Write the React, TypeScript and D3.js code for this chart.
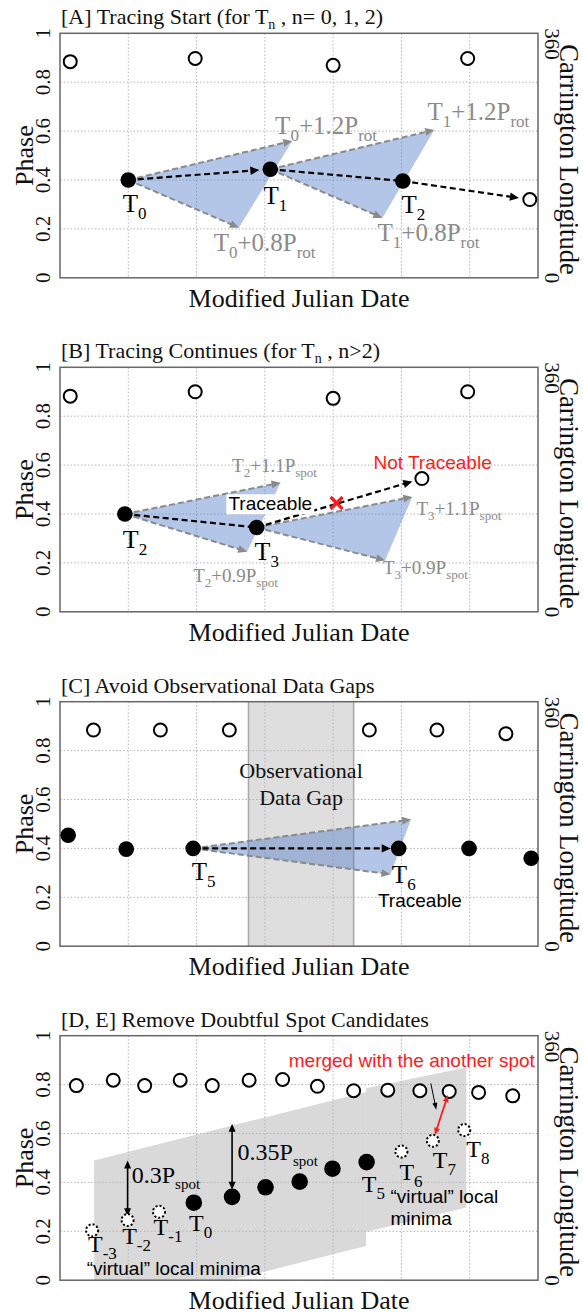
import React from 'react';
import * as d3 from 'd3';

// ---------- layout constants ----------
const W = 583;
const H = 1316;
const LEFT = 60;
const RIGHT = 538;
const PH = 244.5;
const PANEL_TOPS = [33.3, 367.3, 701.7, 1035.7];
const SERIF = "'Liberation Serif', 'Times New Roman', serif";
const SANS = "'Liberation Sans', Arial, sans-serif";

// ---------- axes ----------
const X_DOMAIN = [0, 7];
const X_GRID = [1, 2, 3, 4, 5, 6];
const Y_TICKS = [0, 0.2, 0.4, 0.6, 0.8, 1];
const Y_TICK_LABELS = ['0', '0.2', '0.4', '0.6', '0.8', '1'];
const Y_GRID = [0.2, 0.4, 0.6, 0.8];
const RIGHT_TICKS = [0, 1];
const RIGHT_TICK_LABELS = ['0', '360'];
const X_LABEL = 'Modified Julian Date';
const Y_LABEL = 'Phase';
const Y2_LABEL = 'Carrington Longitude';

type Seg = { t: string; sub?: boolean };
const TITLES: Seg[][] = [
  [{ t: '[A] Tracing Start (for T' }, { t: 'n', sub: true }, { t: ' , n= 0, 1, 2)' }],
  [{ t: '[B] Tracing Continues (for T' }, { t: 'n', sub: true }, { t: ' , n>2)' }],
  [{ t: '[C] Avoid Observational Data Gaps' }],
  [{ t: '[D, E] Remove Doubtful Spot Candidates' }],
];

// ---------- Panel A ----------
const openA = [[0.15, 0.884], [1.98, 0.897], [4.0, 0.869], [5.97, 0.897], [6.88, 0.32]];
const filledA = [[1.0, 0.4], [3.08, 0.444], [5.02, 0.396]];
const filledLabelsA = [
  { x: 0.92, y: 0.27, n: '0' },
  { x: 2.98, y: 0.3, n: '1' },
  { x: 5.0, y: 0.265, n: '2' },
];
const conesA = [
  { from: [1.0, 0.4], up: [3.4, 0.56], low: [2.62, 0.205] },
  { from: [3.08, 0.444], up: [5.48, 0.605], low: [4.72, 0.245] },
];
const tracesA = [
  { from: [1.0, 0.4], to: [3.08, 0.444], head: true },
  { from: [3.08, 0.444], to: [5.02, 0.396], head: false },
  { from: [5.02, 0.396], to: [6.88, 0.32], head: true },
];
const grayLabelsA = [
  { x: 3.15, y: 0.59, segs: [{ t: 'T' }, { t: '0', sub: true }, { t: '+1.2P' }, { t: 'rot', sub: true }] },
  { x: 5.38, y: 0.645, segs: [{ t: 'T' }, { t: '1', sub: true }, { t: '+1.2P' }, { t: 'rot', sub: true }] },
  { x: 2.25, y: 0.11, segs: [{ t: 'T' }, { t: '0', sub: true }, { t: '+0.8P' }, { t: 'rot', sub: true }] },
  { x: 4.65, y: 0.15, segs: [{ t: 'T' }, { t: '1', sub: true }, { t: '+0.8P' }, { t: 'rot', sub: true }] },
];

// ---------- Panel B ----------
const openB = [[0.15, 0.882], [1.98, 0.9], [4.0, 0.873], [5.97, 0.9], [5.3, 0.545]];
const filledB = [[0.95, 0.4], [2.88, 0.345]];
const filledLabelsB = [
  { x: 0.92, y: 0.26, n: '2' },
  { x: 2.85, y: 0.21, n: '3' },
];
const conesB = [
  { from: [0.95, 0.4], up: [3.23, 0.528], low: [2.74, 0.246] },
  { from: [2.88, 0.345], up: [5.16, 0.47], low: [4.76, 0.21] },
];
const tracesB = [
  { from: [0.95, 0.4], to: [2.88, 0.345], head: false },
  { from: [2.88, 0.345], to: [5.3, 0.545], head: true },
];
const grayLabelsB = [
  { x: 2.52, y: 0.57, segs: [{ t: 'T' }, { t: '2', sub: true }, { t: '+1.1P' }, { t: 'spot', sub: true }] },
  { x: 5.22, y: 0.395, segs: [{ t: 'T' }, { t: '3', sub: true }, { t: '+1.1P' }, { t: 'spot', sub: true }] },
  { x: 1.95, y: 0.12, segs: [{ t: 'T' }, { t: '2', sub: true }, { t: '+0.9P' }, { t: 'spot', sub: true }] },
  { x: 4.73, y: 0.153, segs: [{ t: 'T' }, { t: '3', sub: true }, { t: '+0.9P' }, { t: 'spot', sub: true }] },
];
const crossB = [4.05, 0.445];
const traceableB = { x: 3.08, y: 0.415, text: 'Traceable' };
const notTraceableB = { x: 4.59, y: 0.585, text: 'Not Traceable' };

// ---------- Panel C ----------
const gapC = [2.76, 4.3];
const openC = [[0.49, 0.884], [1.47, 0.884], [2.48, 0.884], [4.53, 0.884], [5.52, 0.884], [6.53, 0.869]];
const filledC = [[0.12, 0.454], [0.97, 0.397], [1.95, 0.4], [4.96, 0.4], [5.99, 0.4], [6.9, 0.36]];
const filledLabelsC = [
  { x: 1.93, y: 0.27, n: '5' },
  { x: 4.86, y: 0.257, n: '6' },
];
const conesC = [{ from: [1.95, 0.4], up: [5.14, 0.518], low: [4.84, 0.294] }];
const tracesC = [{ from: [1.95, 0.4], to: [4.96, 0.4], head: true }];
const gapTextC = [
  { x: 3.53, y: 0.687, text: 'Observational' },
  { x: 3.53, y: 0.577, text: 'Data Gap' },
];
const traceableC = { x: 5.27, y: 0.162, text: 'Traceable' };

// ---------- Panel D ----------
const grayLeftD = [[0.5, 0], [0.5, 0.49], [4.48, 0.77], [4.48, 0.14], [2.5, 0]];
const grayRightD = [[4.48, 0.785], [5.95, 0.87], [5.95, 0.297], [4.48, 0.197]];
const openD = [
  [0.24, 0.796], [0.78, 0.818], [1.24, 0.796], [1.76, 0.818], [2.23, 0.796], [2.77, 0.818],
  [3.26, 0.821], [3.77, 0.793], [4.3, 0.775], [4.8, 0.777], [5.27, 0.775], [5.7, 0.772],
  [6.13, 0.768], [6.63, 0.754],
];
const filledD = [[1.96, 0.317], [2.52, 0.341], [3.01, 0.38], [3.51, 0.403], [3.99, 0.456], [4.49, 0.483]];
const dottedD = [[0.47, 0.204], [0.99, 0.246], [1.45, 0.28], [5.0, 0.526], [5.46, 0.57], [5.92, 0.614]];
const labelsD = [
  { x: 0.41, y: 0.115, n: '-3' },
  { x: 0.91, y: 0.15, n: '-2' },
  { x: 1.37, y: 0.184, n: '-1' },
  { x: 1.89, y: 0.2, n: '0' },
  { x: 4.42, y: 0.36, n: '5' },
  { x: 4.97, y: 0.41, n: '6' },
  { x: 5.46, y: 0.457, n: '7' },
  { x: 5.95, y: 0.505, n: '8' },
];
const spansD = [
  { x: 0.99, y1: 0.262, y2: 0.49, lx: 1.05, ly: 0.396, label: '0.3P' },
  { x: 2.52, y1: 0.37, y2: 0.64, lx: 2.6, ly: 0.49, label: '0.35P' },
];
const virtualD = [
  { x: 0.39, y: 0.023, text: '\u201cvirtual\u201d local minima' },
  { x: 4.84, y: 0.314, text: '\u201cvirtual\u201d local' },
  { x: 4.84, y: 0.225, text: 'minima' },
];
const mergedD = { x: 3.35, y: 0.873, text: 'merged with the another spot' };
const pointerD = { from: [5.43, 0.805], to: [5.51, 0.697] };
const redArrowD = { from: [5.49, 0.595], to: [5.68, 0.757] };

// ---------- helpers ----------
function RichText(props: {
  x: number; y: number; segs: Seg[]; size: number; subSize: number; fill: string;
  family?: string; anchor?: string; shift?: number;
}) {
  const { x, y, segs, size, subSize, fill, family = SERIF, anchor = 'start' } = props;
  const shift = props.shift ?? size * 0.28;
  let down = false;
  const kids = segs.map((s, i) => {
    if (s.sub) {
      const dy = down ? 0 : shift;
      down = true;
      return <tspan key={i} fontSize={subSize} dy={dy}>{s.t}</tspan>;
    }
    const dy = down ? -shift : 0;
    down = false;
    return <tspan key={i} fontSize={size} dy={dy}>{s.t}</tspan>;
  });
  return (
    <text x={x} y={y} fill={fill} fontFamily={family} fontSize={size} textAnchor={anchor as any}>
      {kids}
    </text>
  );
}

function Arrow(props: {
  x1: number; y1: number; x2: number; y2: number; color: string; width: number;
  dash?: string; head?: boolean; head2?: boolean; hl?: number; hw?: number; shorten?: number; shortenStart?: number;
}) {
  const { color, width, dash, head = true, head2 = false, hl = 10, hw = 4.5, shorten = 0, shortenStart = 0 } = props;
  const dx = props.x2 - props.x1;
  const dy = props.y2 - props.y1;
  const L = Math.hypot(dx, dy);
  const ux = dx / L, uy = dy / L;
  const nx = -uy, ny = ux;
  const sx = props.x1 + ux * shortenStart, sy = props.y1 + uy * shortenStart;
  const ex = props.x2 - ux * shorten, ey = props.y2 - uy * shorten;
  const lx2 = head ? ex - ux * hl * 0.7 : ex;
  const ly2 = head ? ey - uy * hl * 0.7 : ey;
  const lx1 = head2 ? sx + ux * hl * 0.7 : sx;
  const ly1 = head2 ? sy + uy * hl * 0.7 : sy;
  const headPts = (tx: number, ty: number, dxu: number, dyu: number) => {
    const bx = tx - dxu * hl, by = ty - dyu * hl;
    return `${tx},${ty} ${bx + nx * hw},${by + ny * hw} ${bx - nx * hw},${by - ny * hw}`;
  };
  return (
    <g>
      <line x1={lx1} y1={ly1} x2={lx2} y2={ly2} stroke={color} strokeWidth={width} strokeDasharray={dash} />
      {head && <polygon points={headPts(ex, ey, ux, uy)} fill={color} />}
      {head2 && <polygon points={headPts(sx, sy, -ux, -uy)} fill={color} />}
    </g>
  );
}

const xScale = d3.scaleLinear().domain(X_DOMAIN).range([LEFT, RIGHT]);

function Frame({ idx, children, under }: { idx: number; children?: React.ReactNode; under?: React.ReactNode }) {
  const top = PANEL_TOPS[idx];
  const bottom = top + PH;
  const y = d3.scaleLinear().domain([0, 1]).range([bottom, top]);
  const midY = (top + bottom) / 2;
  return (
    <g>
      <RichText x={LEFT + 1} y={top - 9} segs={TITLES[idx]} size={22} subSize={14} fill="#111" shift={5} />
      {under}
      {X_GRID.map((g) => (
        <line key={'vx' + g} x1={xScale(g)} x2={xScale(g)} y1={top} y2={bottom} stroke="#b5b5b5" strokeWidth={1} strokeDasharray="1.5,2" />
      ))}
      {Y_GRID.map((g) => (
        <line key={'hy' + g} x1={LEFT} x2={RIGHT} y1={y(g)} y2={y(g)} stroke="#b5b5b5" strokeWidth={1} strokeDasharray="1.5,2" />
      ))}
      <rect x={LEFT} y={top} width={RIGHT - LEFT} height={PH} fill="none" stroke="#666" strokeWidth={1.5} />
      {Y_TICKS.map((t, i) => (
        <text key={'yt' + t} transform={`translate(50,${y(t)}) rotate(-90)`} textAnchor="middle" fontFamily={SERIF} fontSize={21} fill="#111">
          {Y_TICK_LABELS[i]}
        </text>
      ))}
      {RIGHT_TICKS.map((t, i) => (
        <text key={'rt' + t} transform={`translate(545,${y(t) - 5}) rotate(90)`} textAnchor="start" fontFamily={SERIF} fontSize={21} fill="#111">
          {RIGHT_TICK_LABELS[i]}
        </text>
      ))}
      <text transform={`translate(33,${midY}) rotate(-90)`} textAnchor="middle" fontFamily={SERIF} fontSize={26} fill="#111">{Y_LABEL}</text>
      <text transform={`translate(560,${midY + 4}) rotate(90)`} textAnchor="middle" fontFamily={SERIF} fontSize={26.5} fill="#111">{Y2_LABEL}</text>
      <text x={(LEFT + RIGHT) / 2} y={bottom + 29} textAnchor="middle" fontFamily={SERIF} fontSize={26} fill="#111">{X_LABEL}</text>
      {children}
    </g>
  );
}

function yS(idx: number) {
  const top = PANEL_TOPS[idx];
  return d3.scaleLinear().domain([0, 1]).range([top + PH, top]);
}

const CONE_FILL = 'rgb(80,122,201)';
const CONE_OPACITY = 0.43;
const GRAY_ARROW = '#8a8a8a';

function Cones({ cones, y }: { cones: { from: number[]; up: number[]; low: number[] }[]; y: d3.ScaleLinear<number, number> }) {
  return (
    <g>
      {cones.map((c, i) => (
        <polygon key={'cf' + i}
          points={[c.from, c.up, c.low].map((p) => `${xScale(p[0])},${y(p[1])}`).join(' ')}
          fill={CONE_FILL} fillOpacity={CONE_OPACITY} />
      ))}
      {cones.map((c, i) => (
        <g key={'ca' + i}>
          <Arrow x1={xScale(c.from[0])} y1={y(c.from[1])} x2={xScale(c.up[0])} y2={y(c.up[1])} color={GRAY_ARROW} width={2} dash="6,3" hl={9} hw={4} />
          <Arrow x1={xScale(c.from[0])} y1={y(c.from[1])} x2={xScale(c.low[0])} y2={y(c.low[1])} color={GRAY_ARROW} width={2} dash="6,3" hl={9} hw={4} />
        </g>
      ))}
    </g>
  );
}

function Traces({ traces, y, shorten }: { traces: { from: number[]; to: number[]; head: boolean }[]; y: d3.ScaleLinear<number, number>; shorten: number }) {
  return (
    <g>
      {traces.map((t, i) => (
        <Arrow key={'tr' + i} x1={xScale(t.from[0])} y1={y(t.from[1])} x2={xScale(t.to[0])} y2={y(t.to[1])}
          color="#000" width={2.2} dash="6,3.5" head={t.head} hl={9} hw={4.2} shorten={t.head ? shorten : 0} />
      ))}
    </g>
  );
}

function OpenDots({ pts, y, r = 6.5 }: { pts: number[][]; y: d3.ScaleLinear<number, number>; r?: number }) {
  return (
    <g>
      {pts.map((p, i) => (
        <circle key={'o' + i} cx={xScale(p[0])} cy={y(p[1])} r={r} fill="#fff" stroke="#000" strokeWidth={2} />
      ))}
    </g>
  );
}
function FilledDots({ pts, y, r = 7.8 }: { pts: number[][]; y: d3.ScaleLinear<number, number>; r?: number }) {
  return (
    <g>
      {pts.map((p, i) => (
        <circle key={'f' + i} cx={xScale(p[0])} cy={y(p[1])} r={r} fill="#000" />
      ))}
    </g>
  );
}
function TLabels({ labels, y, size = 25 }: { labels: { x: number; y: number; n: string }[]; y: d3.ScaleLinear<number, number>; size?: number }) {
  return (
    <g>
      {labels.map((l, i) => (
        <RichText key={'tl' + i} x={xScale(l.x)} y={y(l.y)} segs={[{ t: 'T' }, { t: l.n, sub: true }]} size={size} subSize={17} fill="#000" shift={7} />
      ))}
    </g>
  );
}

function PanelA() {
  const y = yS(0);
  return (
    <Frame idx={0}>
      <Cones cones={conesA} y={y} />
      <Traces traces={tracesA} y={y} shorten={11} />
      <OpenDots pts={openA} y={y} />
      <FilledDots pts={filledA} y={y} />
      <TLabels labels={filledLabelsA} y={y} />
      {grayLabelsA.map((l, i) => (
        <RichText key={'gA' + i} x={xScale(l.x)} y={y(l.y)} segs={l.segs} size={25} subSize={17} fill="#8a8a8a" shift={7} />
      ))}
    </Frame>
  );
}

function PanelB() {
  const y = yS(1);
  const cx = xScale(crossB[0]);
  const cy = y(crossB[1]);
  const tx = xScale(traceableB.x);
  const ty = y(traceableB.y);
  return (
    <Frame idx={1}>
      <Cones cones={conesB} y={y} />
      <Traces traces={tracesB} y={y} shorten={10} />
      <rect x={tx - 44} y={ty - 16} width={88} height={20} fill="#fff" />
      <text x={tx} y={ty} textAnchor="middle" fontFamily={SANS} fontSize={19} fill="#000">{traceableB.text}</text>
      <g stroke="#ff1a1a" strokeWidth={3.2}>
        <line x1={cx - 6} y1={cy - 6} x2={cx + 6} y2={cy + 6} />
        <line x1={cx - 6} y1={cy + 6} x2={cx + 6} y2={cy - 6} />
      </g>
      <OpenDots pts={openB} y={y} />
      <FilledDots pts={filledB} y={y} />
      <TLabels labels={filledLabelsB} y={y} size={26} />
      {grayLabelsB.map((l, i) => (
        <RichText key={'gB' + i} x={xScale(l.x)} y={y(l.y)} segs={l.segs} size={19} subSize={13} fill="#8a8a8a" shift={5} />
      ))}
      <text x={xScale(notTraceableB.x)} y={y(notTraceableB.y)} fontFamily={SANS} fontSize={19} fill="#ff1a1a">{notTraceableB.text}</text>
    </Frame>
  );
}

function PanelC() {
  const y = yS(2);
  const top = PANEL_TOPS[2];
  const under = (
    <g>
      <rect x={xScale(gapC[0])} y={top} width={xScale(gapC[1]) - xScale(gapC[0])} height={PH} fill="#dedede" />
      <line x1={xScale(gapC[0])} x2={xScale(gapC[0])} y1={top} y2={top + PH} stroke="#a8a8a8" strokeWidth={1.5} />
      <line x1={xScale(gapC[1])} x2={xScale(gapC[1])} y1={top} y2={top + PH} stroke="#a8a8a8" strokeWidth={1.5} />
    </g>
  );
  return (
    <Frame idx={2} under={under}>
      {gapTextC.map((g, i) => (
        <text key={'gt' + i} x={xScale(g.x)} y={y(g.y)} textAnchor="middle" fontFamily={SERIF} fontSize={22} fill="#111">{g.text}</text>
      ))}
      <Cones cones={conesC} y={y} />
      <Traces traces={tracesC} y={y} shorten={8} />
      <OpenDots pts={openC} y={y} />
      <FilledDots pts={filledC} y={y} />
      <TLabels labels={filledLabelsC} y={y} />
      <text x={xScale(traceableC.x)} y={y(traceableC.y)} textAnchor="middle" fontFamily={SANS} fontSize={19} fill="#000">{traceableC.text}</text>
    </Frame>
  );
}

function PanelD() {
  const y = yS(3);
  const under = (
    <g>
      {[grayLeftD, grayRightD].map((poly, i) => (
        <polygon key={'gp' + i} points={poly.map((p) => `${xScale(p[0])},${y(p[1])}`).join(' ')} fill="#d9d9d9" />
      ))}
    </g>
  );
  return (
    <Frame idx={3} under={under}>
      {spansD.map((s, i) => (
        <g key={'sp' + i}>
          <Arrow x1={xScale(s.x)} y1={y(s.y1)} x2={xScale(s.x)} y2={y(s.y2)} color="#000" width={1.6} head head2 hl={8} hw={3.5} />
          <RichText x={xScale(s.lx)} y={y(s.ly)} segs={[{ t: s.label }, { t: 'spot', sub: true }]} size={24} subSize={15} fill="#000" shift={6} />
        </g>
      ))}
      <OpenDots pts={openD} y={y} />
      <FilledDots pts={filledD} y={y} r={8.3} />
      {dottedD.map((p, i) => (
        <circle key={'dd' + i} cx={xScale(p[0])} cy={y(p[1])} r={6} fill="#fff" stroke="#000" strokeWidth={2} strokeDasharray="2,2" />
      ))}
      <TLabels labels={labelsD} y={y} size={24} />
      {virtualD.map((v, i) => (
        <text key={'vd' + i} x={xScale(v.x)} y={y(v.y)} fontFamily={SANS} fontSize={19} fill="#000">{v.text}</text>
      ))}
      <text x={xScale(mergedD.x)} y={y(mergedD.y)} fontFamily={SANS} fontSize={19} fill="#ff1a1a">{mergedD.text}</text>
      <Arrow x1={xScale(pointerD.from[0])} y1={y(pointerD.from[1])} x2={xScale(pointerD.to[0])} y2={y(pointerD.to[1])} color="#000" width={1} hl={7} hw={2.5} />
      <Arrow x1={xScale(redArrowD.from[0])} y1={y(redArrowD.from[1])} x2={xScale(redArrowD.to[0])} y2={y(redArrowD.to[1])} color="#ff1a1a" width={1.8} head head2 hl={7} hw={3} />
    </Frame>
  );
}

export default function App() {
  return (
    <svg width={W} height={H} viewBox={`0 0 ${W} ${H}`} style={{ position: 'absolute', left: 0, top: 0, background: '#fff' }}>
      <rect x={0} y={0} width={W} height={H} fill="#fff" />
      <PanelA />
      <PanelB />
      <PanelC />
      <PanelD />
    </svg>
  );
}
